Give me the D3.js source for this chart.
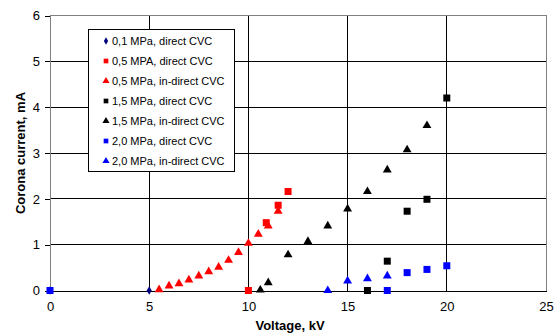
<!DOCTYPE html>
<html>
<head>
<meta charset="utf-8">
<script src="https://cdn.jsdelivr.net/npm/d3@7"></script>
<style>
  body { margin: 0; background: #fff; }
  svg { font-family: "Liberation Sans", Arial, sans-serif; }
</style>
</head>
<body>
<svg id="svg" width="558" height="333"></svg>
<script>
// series data, voltage kV / current mA
const s01Direct = [[0, 0], [5, 0]];
const s05Direct = [[10, 0], [10.9, 1.48], [11.5, 1.86], [12, 2.16]];
const s05Indirect = [[5.5, 0.02], [6, 0.1], [6.5, 0.15], [7, 0.23], [7.5, 0.32], [8, 0.41], [8.5, 0.51],
  [9, 0.66], [9.5, 0.83], [10, 1.03], [10.5, 1.23], [11, 1.41], [11.5, 1.73]];
const s15Direct = [[16, 0], [17, 0.64], [18, 1.73], [19, 1.99], [20, 4.2]];
const s15Indirect = [[10.6, 0.01], [11, 0.17], [12, 0.78], [13, 1.07], [14, 1.41], [15, 1.78],
  [16, 2.16], [17, 2.63], [18, 3.07], [19, 3.6]];
const s20Direct = [[0, 0], [17, 0], [18, 0.39], [19, 0.46], [20, 0.54]];
const s20Indirect = [[14, 0], [15, 0.21], [16, 0.26], [17, 0.32]];

const seriesNames = ["0,1 MPa, direct CVC", "0,5 MPA, direct CVC", "0,5 MPa, in-direct CVC",
  "1,5 MPa, direct CVC", "1,5 MPa, in-direct CVC", "2,0 MPa, direct CVC", "2,0 MPa, in-direct CVC"];
const xTicks = [0, 5, 10, 15, 20, 25];
const yTicks = [0, 1, 2, 3, 4, 5, 6];

const series = [
  {name: seriesNames[0], data: s01Direct, shape: d3.symbolDiamond, color: "#000080", size: 22},
  {name: seriesNames[1], data: s05Direct, shape: d3.symbolSquare, color: "#ff0000", size: 49},
  {name: seriesNames[2], data: s05Indirect, shape: d3.symbolTriangle, color: "#ff0000", size: 34},
  {name: seriesNames[3], data: s15Direct, shape: d3.symbolSquare, color: "#000000", size: 49},
  {name: seriesNames[4], data: s15Indirect, shape: d3.symbolTriangle, color: "#000000", size: 34},
  {name: seriesNames[5], data: s20Direct, shape: d3.symbolSquare, color: "#0000ff", size: 49},
  {name: seriesNames[6], data: s20Indirect, shape: d3.symbolTriangle, color: "#0000ff", size: 34}
];

const svg = d3.select("#svg");

const x = d3.scaleLinear().domain([0, 25]).range([50, 546]);
const y = d3.scaleLinear().domain([0, 6]).range([290.5, 15.5]);

// gridlines
const grid = svg.append("g").attr("shape-rendering", "crispEdges");
grid.selectAll(".hg").data(yTicks.slice(1, -1)).enter().append("line")
    .attr("x1", x(0)).attr("x2", x(25))
    .attr("y1", d => y(d)).attr("y2", d => y(d))
    .attr("stroke", "#000");
grid.selectAll(".vg").data(xTicks.slice(1, -1)).enter().append("line")
    .attr("y1", y(0)).attr("y2", y(6))
    .attr("x1", d => x(d)).attr("x2", d => x(d))
    .attr("stroke", "#000");

// plot border (top / right)
grid.append("path")
    .attr("d", `M${x(0)},${y(6)}H${x(25)}V${y(0)}`)
    .attr("fill", "none")
    .attr("stroke", "#808080");

// axes
const xAxis = svg.append("g")
    .attr("transform", `translate(0,${y(0)})`)
    .call(d3.axisBottom(x).tickValues(xTicks).tickFormat(d3.format("d")).tickSize(0).tickPadding(11));
xAxis.select(".domain").attr("stroke", "#000").attr("shape-rendering", "crispEdges");

const yAxis = svg.append("g")
    .attr("transform", `translate(${x(0)},0)`)
    .call(d3.axisLeft(y).tickValues(yTicks).tickFormat(d3.format("d")).tickSize(5).tickPadding(5));
yAxis.select(".domain").attr("stroke", "#808080").attr("shape-rendering", "crispEdges");
yAxis.selectAll(".tick line").attr("stroke", "#000").attr("shape-rendering", "crispEdges");

svg.selectAll(".tick text")
    .attr("font-family", "Liberation Sans, Arial, sans-serif")
    .attr("font-size", 13)
    .attr("fill", "#000");

// axis titles
svg.append("text")
    .attr("transform", "translate(25,153) rotate(-90)")
    .attr("text-anchor", "middle")
    .attr("font-size", 13)
    .attr("font-weight", "bold")
    .text("Corona current, mA");

svg.append("text")
    .attr("x", 290)
    .attr("y", 330)
    .attr("text-anchor", "middle")
    .attr("font-size", 13)
    .attr("font-weight", "bold")
    .text("Voltage, kV");

// points
series.forEach(s => {
  svg.append("g").selectAll("path")
      .data(s.data)
    .enter().append("path")
      .attr("transform", d => `translate(${x(d[0])},${y(d[1])})`)
      .attr("d", d3.symbol().type(s.shape).size(s.size))
      .attr("fill", s.color);
});

// legend
const legend = svg.append("g").attr("class", "legend");
legend.append("rect")
    .attr("x", 88.5).attr("y", 29.5)
    .attr("width", 146).attr("height", 142)
    .attr("fill", "#fff")
    .attr("stroke", "#000");

const item = legend.selectAll(".item")
    .data(series)
  .enter().append("g")
    .attr("transform", (d, i) => `translate(106,${41 + i * 20})`);

item.append("path")
    .attr("d", d => d3.symbol().type(d.shape).size(d.shape === d3.symbolDiamond ? 16 : 22)())
    .attr("fill", d => d.color);

item.append("text")
    .attr("x", 6)
    .attr("y", 4)
    .attr("font-size", 11)
    .text(d => d.name);
</script>
</body>
</html>
